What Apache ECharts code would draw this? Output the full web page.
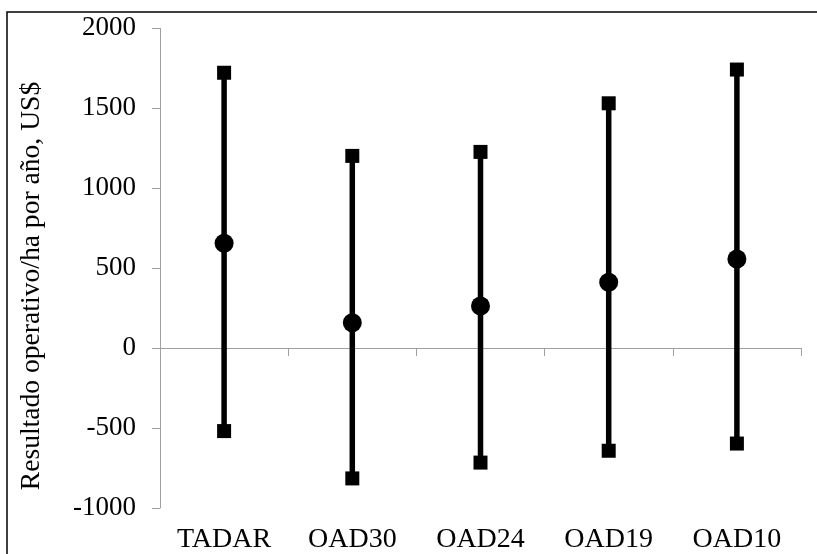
<!DOCTYPE html>
<html>
<head>
<meta charset="utf-8">
<script src="https://cdn.jsdelivr.net/npm/echarts@6/dist/echarts.min.js"></script>
<style>
html,body{margin:0;padding:0;background:#fff;}
#chart{width:817px;height:554px;}
</style>
</head>
<body>
<div id="chart"></div>
<script>
var categories = ['TADAR', 'OAD30', 'OAD24', 'OAD19', 'OAD10'];
var meanValues = [656, 158, 263, 412, 557];
var highValues = [1722, 1202, 1227, 1531, 1742];
var lowValues = [-519, -815, -716, -642, -597];
var yTicks = [-1000, -500, 0, 500, 1000, 1500, 2000];
var yTitle = 'Resultado operativo/ha por año, US$';

var FONT = '"Liberation Serif", "Times New Roman", Times, serif';
var chart = echarts.init(document.getElementById('chart'));

var rangeData = categories.map(function (c, i) { return [i, lowValues[i], highValues[i]]; });

chart.setOption({
  animation: false,
  backgroundColor: '#fff',
  grid: { left: 160, right: 16, top: 28.3, bottom: 42.3, containLabel: false },
  graphic: [
    { type: 'polyline', shape: { points: [[7, 560], [7, 12], [820, 12]] },
      style: { fill: 'none', stroke: '#000', lineWidth: 1.5 }, silent: true },
    { type: 'text', x: 32, y: 286, rotation: Math.PI / 2,
      style: { text: yTitle, font: '27.6px ' + FONT, fill: '#000',
               textAlign: 'center', textVerticalAlign: 'middle' } }
  ],
  xAxis: {
    type: 'category',
    data: categories,
    boundaryGap: true,
    axisLine: { onZero: true, lineStyle: { color: '#a0a0a0', width: 1 } },
    axisTick: { show: true, length: 8, inside: false, lineStyle: { color: '#a0a0a0' } },
    axisLabel: { color: '#000', fontFamily: FONT, fontSize: 28, margin: 18 },
    splitLine: { show: false }
  },
  yAxis: {
    type: 'value',
    min: yTicks[0], max: yTicks[yTicks.length - 1], interval: 500,
    axisLine: { show: true, lineStyle: { color: '#a0a0a0', width: 1 } },
    axisTick: { show: true, length: 8, lineStyle: { color: '#a0a0a0' } },
    axisLabel: { color: '#000', fontFamily: FONT, fontSize: 27, margin: 24,
      formatter: function (v) { return String(v); } },
    splitLine: { show: false }
  },
  series: [
    {
      type: 'custom',
      data: rangeData,
      renderItem: function (params, api) {
        var x = api.value(0);
        var p1 = api.coord([x, api.value(1)]);
        var p2 = api.coord([x, api.value(2)]);
        return { type: 'line', shape: { x1: p1[0], y1: p1[1], x2: p2[0], y2: p2[1] },
                 style: { stroke: '#000', lineWidth: 5.5 } };
      },
      encode: { x: 0, y: [1, 2] },
      z: 2
    },
    { type: 'scatter', data: highValues, symbol: 'rect', symbolSize: 14,
      itemStyle: { color: '#000', opacity: 1 }, z: 3 },
    { type: 'scatter', data: lowValues, symbol: 'rect', symbolSize: 14,
      itemStyle: { color: '#000', opacity: 1 }, z: 3 },
    { type: 'scatter', data: meanValues, symbol: 'circle', symbolSize: 19,
      itemStyle: { color: '#000', opacity: 1 }, z: 4 }
  ]
});
</script>
</body>
</html>
